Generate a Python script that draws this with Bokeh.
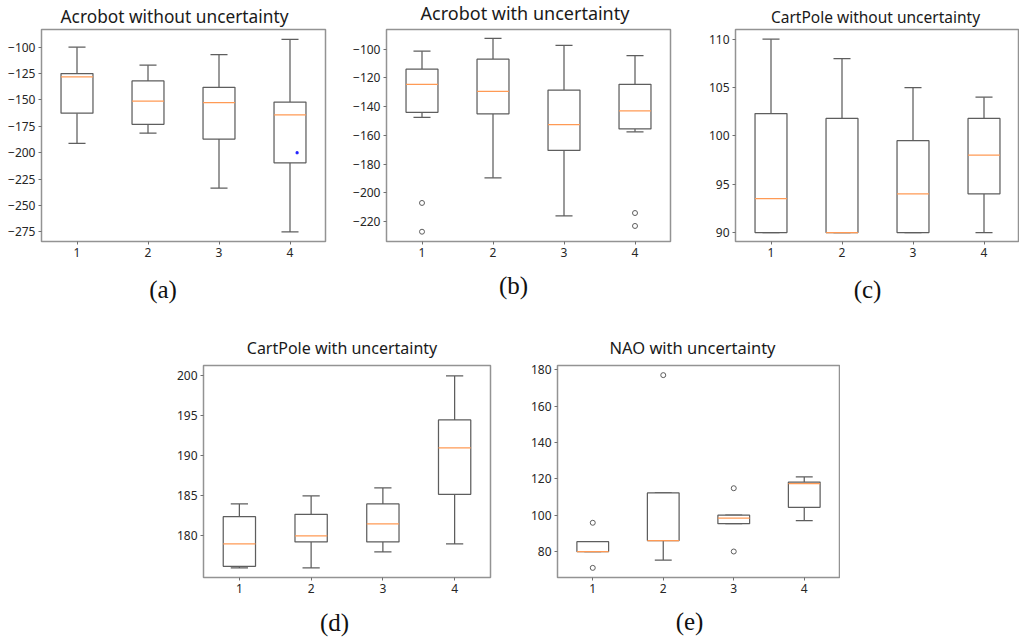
from bokeh.plotting import figure
from bokeh.models import Range1d, FixedTicker, Label, Spacer
from bokeh.layouts import row, column
from bokeh.embed import file_html
from bokeh.resources import INLINE

positions = [1, 2, 3, 4]

# (a) Acrobot without uncertainty
acro_wo_low = [-191, -181.5, -233.5, -275]
acro_wo_q1 = [-162.5, -173, -187, -209.5]
acro_wo_med = [-128, -151, -152.5, -164]
acro_wo_q3 = [-125, -132, -138, -152]
acro_wo_high = [-100, -117, -107, -92.5]
acro_wo_stray_x = [4.1]
acro_wo_stray_y = [-200]
acro_wo_yticks = [-100, -125, -150, -175, -200, -225, -250, -275]

# (b) Acrobot with uncertainty
acro_w_low = [-147.5, -189.5, -216, -157.5]
acro_w_q1 = [-144, -145, -170.5, -155.5]
acro_w_med = [-124.5, -129.5, -152.5, -143]
acro_w_q3 = [-114, -107, -128.5, -124.5]
acro_w_high = [-101.5, -92.5, -97.5, -104.5]
acro_w_out_x = [1, 1, 4, 4]
acro_w_out_y = [-207, -227, -214, -223]
acro_w_yticks = [-100, -120, -140, -160, -180, -200, -220]

# (c) CartPole without uncertainty
cart_wo_low = [90, 90, 90, 90]
cart_wo_q1 = [90, 90, 90, 94]
cart_wo_med = [93.5, 90, 94, 98]
cart_wo_q3 = [102.3, 101.8, 99.5, 101.8]
cart_wo_high = [110, 108, 105, 104]
cart_wo_yticks = [90, 95, 100, 105, 110]

# (d) CartPole with uncertainty
cart_w_low = [176, 176, 178, 179]
cart_w_q1 = [176.2, 179.25, 179.25, 185.2]
cart_w_med = [179, 180, 181.5, 191]
cart_w_q3 = [182.4, 182.7, 184, 194.5]
cart_w_high = [184, 185, 186, 200]
cart_w_yticks = [180, 185, 190, 195, 200]

# (e) NAO with uncertainty
nao_low = [80, 75.3, 95.3, 97]
nao_q1 = [80, 86, 95.3, 104.3]
nao_med = [80, 86, 98.4, 117.3]
nao_q3 = [85.4, 112.2, 100, 118.2]
nao_high = [85.4, 112.2, 100, 121]
nao_out_x = [1, 1, 2, 3, 3]
nao_out_y = [95.8, 71, 177, 114.8, 80]
nao_yticks = [80, 100, 120, 140, 160, 180]

titles = ["Acrobot without uncertainty", "Acrobot with uncertainty",
          "CartPole without uncertainty", "CartPole with uncertainty",
          "NAO with uncertainty"]
captions = ["(a)", "(b)", "(c)", "(d)", "(e)"]

BOX_W = 0.45
CAP_W = 0.24
BOX_COLOR = "#5e5e5e"
MED_COLOR = "#ff9a55"
FRAME_COLOR = "#939393"
TICK_FONT = "Noto Sans"
TITLE_FONT = "Noto Sans"
CAP_FONT = "Liberation Serif"


def panel(origin, size, frame, yr, yticks, low, q1, med, q3, high, out_x, out_y):
    ox, oy = origin
    W, H = size
    L, T, R, B = frame
    p = figure(width=W, height=H, output_backend="svg", toolbar_location=None,
               title=None, x_range=Range1d(0.5, 4.5), y_range=Range1d(*yr),
               min_border_left=L - ox, min_border_right=ox + W - R,
               min_border_top=T - oy, min_border_bottom=oy + H - B)
    p.xgrid.visible = False
    p.ygrid.visible = False
    p.background_fill_color = "white"
    p.border_fill_color = "white"
    p.outline_line_color = FRAME_COLOR
    p.outline_line_width = 1.5
    p.outline_line_alpha = 1.0
    p.xaxis.ticker = FixedTicker(ticks=positions)
    p.yaxis.ticker = FixedTicker(ticks=yticks)
    for ax in (p.xaxis, p.yaxis):
        ax.axis_line_color = None
        ax.major_tick_line_color = "#707070"
        ax.major_tick_out = 3
        ax.major_tick_in = 0
        ax.minor_tick_line_color = None
        ax.major_label_text_font = TICK_FONT
        ax.major_label_text_font_size = "12px"
        ax.major_label_text_color = "#262626"
        ax.major_label_standoff = 3

    lefts = [x - BOX_W / 2 for x in positions]
    rights = [x + BOX_W / 2 for x in positions]
    cl = [x - CAP_W / 2 for x in positions]
    cr = [x + CAP_W / 2 for x in positions]
    lw = 1.25
    p.segment(x0=positions, y0=q3, x1=positions, y1=high, line_color=BOX_COLOR, line_width=lw)
    p.segment(x0=positions, y0=q1, x1=positions, y1=low, line_color=BOX_COLOR, line_width=lw)
    p.segment(x0=cl, y0=high, x1=cr, y1=high, line_color=BOX_COLOR, line_width=lw)
    p.segment(x0=cl, y0=low, x1=cr, y1=low, line_color=BOX_COLOR, line_width=lw)
    p.quad(left=lefts, right=rights, top=q3, bottom=q1, fill_color="white",
           line_color=BOX_COLOR, line_width=lw)
    p.segment(x0=lefts, y0=med, x1=rights, y1=med, line_color=MED_COLOR, line_width=lw)
    if out_x:
        p.scatter(x=out_x, y=out_y, marker="circle", size=5, fill_color=None,
                  line_color=BOX_COLOR, line_width=1)
    return p


def text_strip(width, height, items):
    p = figure(width=width, height=height, output_backend="svg", toolbar_location=None,
               title=None, x_range=Range1d(0, width), y_range=Range1d(height, 0),
               x_axis_location=None, y_axis_location=None, min_border=0)
    p.grid.visible = False
    p.xgrid.visible = False
    p.ygrid.visible = False
    p.outline_line_color = None
    p.background_fill_color = "white"
    p.border_fill_color = "white"
    for text, x, y, font, size, color in items:
        p.add_layout(Label(x=x, y=y, text=text, text_align="center",
                           text_baseline="alphabetic", text_font=font,
                           text_font_size=f"{size}px", text_color=color))
    return p


TC = "#1a1a1a"
CC = "#111111"
TS = 0.29   # empirical baseline correction (fraction of font size)
CS = 0.32

# row 1: y 0..27 titles, 27..270 plots, 270..320 captions
top_titles = text_strip(1019, 27, [
    (titles[0], 174, 20.7 - TS * 17.3, TITLE_FONT, 17.3, TC),
    (titles[1], 524.5, 17.3 - TS * 18, TITLE_FONT, 18, TC),
    (titles[2], 875, 20.5 - TS * 15.5, TITLE_FONT, 15.5, TC),
])

pa = panel((0, 27), (340, 243), (41, 27, 325, 244), (-284.1, -83.2), acro_wo_yticks,
           acro_wo_low, acro_wo_q1, acro_wo_med, acro_wo_q3, acro_wo_high, [], [])
pa.scatter(x=acro_wo_stray_x, y=acro_wo_stray_y, marker="square", size=2,
           color="#2020ff")
pb = panel((340, 27), (340, 243), (386, 27, 670, 244), (-233.8, -86.4), acro_w_yticks,
           acro_w_low, acro_w_q1, acro_w_med, acro_w_q3, acro_w_high,
           acro_w_out_x, acro_w_out_y)
pc = panel((680, 27), (339, 243), (735, 29, 1019, 241), (89.07, 111.0), cart_wo_yticks,
           cart_wo_low, cart_wo_q1, cart_wo_med, cart_wo_q3, cart_wo_high, [], [])

top_caps = text_strip(1019, 50, [
    (captions[0], 162.5, 297 - 270 - CS * 25, CAP_FONT, 25, CC),
    (captions[1], 513, 293 - 270 - CS * 25, CAP_FONT, 25, CC),
    (captions[2], 867, 297 - 270 - CS * 25, CAP_FONT, 25, CC),
])

# row 2: y 320..358 titles, 358..600 plots, 600..642 captions
bot_titles = text_strip(1019, 38, [
    (titles[3], 341.5, 352.6 - 320 - TS * 16, TITLE_FONT, 16, TC),
    (titles[4], 692, 352.0 - 320 - TS * 16.5, TITLE_FONT, 16.5, TC),
])

pd_ = panel((160, 358), (340, 242), (203, 365, 490, 577), (174.8, 201.3), cart_w_yticks,
            cart_w_low, cart_w_q1, cart_w_med, cart_w_q3, cart_w_high, [], [])
pe = panel((500, 358), (340, 242), (557, 363, 839, 577), (65.7, 182.3), nao_yticks,
           nao_low, nao_q1, nao_med, nao_q3, nao_high, nao_out_x, nao_out_y)

bot_caps = text_strip(1019, 42, [
    (captions[3], 334, 630 - 600 - CS * 25, CAP_FONT, 25, CC),
    (captions[4], 689, 629 - 600 - CS * 25, CAP_FONT, 25, CC),
])

layout = column(
    top_titles,
    row(pa, pb, pc),
    top_caps,
    bot_titles,
    row(Spacer(width=160, height=242), pd_, pe),
    bot_caps,
)

open("out.html", "w").write(file_html(layout, INLINE))
